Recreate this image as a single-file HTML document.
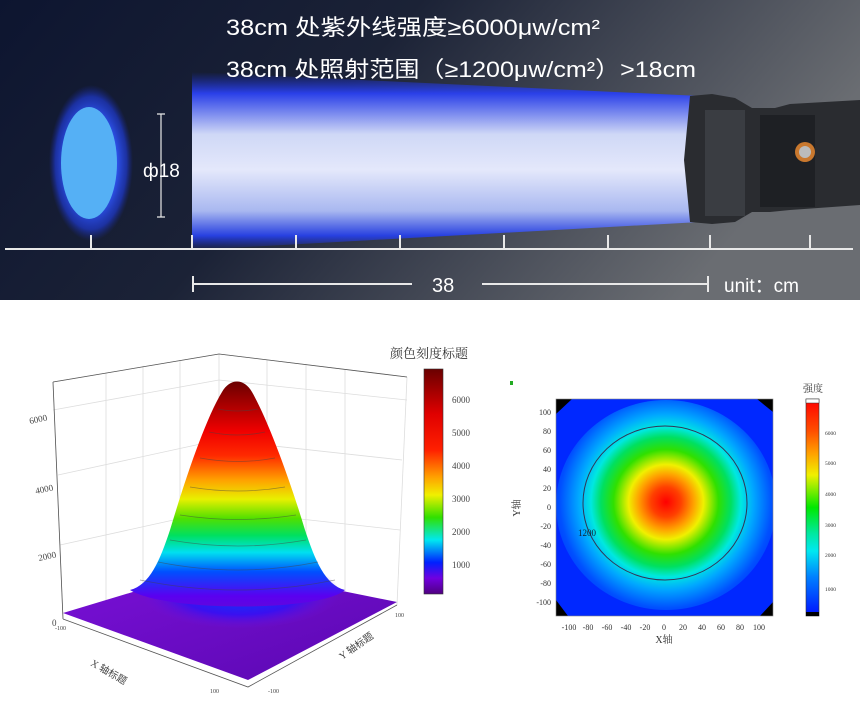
<!DOCTYPE html>
<html><head><meta charset="utf-8"><style>
body{margin:0;width:860px;height:716px;background:#fff;overflow:hidden;font-family:"Liberation Sans","Noto Sans CJK SC",sans-serif}
</style></head><body>
<svg width="860" height="716" viewBox="0 0 860 716" xmlns="http://www.w3.org/2000/svg">
<defs>
<linearGradient id="bg" x1="0" y1="0" x2="1" y2="0.3">
<stop offset="0" stop-color="#0d1530"/><stop offset="0.45" stop-color="#1b2236"/><stop offset="1" stop-color="#6a6d72"/></linearGradient>
<linearGradient id="beam" x1="0" y1="0" x2="0" y2="1">
<stop offset="0" stop-color="#1b2fd0" stop-opacity="0"/><stop offset="0.12" stop-color="#2a40e8"/><stop offset="0.35" stop-color="#cfd8f6"/><stop offset="0.55" stop-color="#e4e8fb"/><stop offset="0.78" stop-color="#a9b8f0"/><stop offset="0.92" stop-color="#2740e0"/><stop offset="1" stop-color="#1b2fd0" stop-opacity="0"/></linearGradient>
<radialGradient id="glow"><stop offset="0.6" stop-color="#2f55f0"/><stop offset="0.85" stop-color="#1f3ad0" stop-opacity="0.7"/><stop offset="1" stop-color="#1a2aa0" stop-opacity="0"/></radialGradient>
<linearGradient id="peak" x1="0" y1="383" x2="0" y2="625" gradientUnits="userSpaceOnUse">
<stop offset="0" stop-color="#6e0000"/><stop offset="0.1" stop-color="#b00000"/><stop offset="0.2" stop-color="#f00000"/><stop offset="0.3" stop-color="#ff2a00"/><stop offset="0.4" stop-color="#ffa000"/><stop offset="0.48" stop-color="#e8f000"/><stop offset="0.56" stop-color="#50e000"/><stop offset="0.63" stop-color="#00e060"/><stop offset="0.7" stop-color="#00e0f0"/><stop offset="0.78" stop-color="#0050ff"/><stop offset="0.88" stop-color="#5a00f0"/><stop offset="1" stop-color="#6a10c0"/></linearGradient>
<linearGradient id="cb3" x1="0" y1="0" x2="0" y2="1">
<stop offset="0" stop-color="#6a0000"/><stop offset="0.2" stop-color="#e00000"/><stop offset="0.36" stop-color="#ff2000"/><stop offset="0.48" stop-color="#ffa000"/><stop offset="0.56" stop-color="#f0f000"/><stop offset="0.66" stop-color="#30e000"/><stop offset="0.76" stop-color="#00e8f0"/><stop offset="0.86" stop-color="#0020ff"/><stop offset="0.93" stop-color="#7000e0"/><stop offset="1" stop-color="#500080"/></linearGradient>
<linearGradient id="cb2" x1="0" y1="0" x2="0" y2="1">
<stop offset="0" stop-color="#ff0000"/><stop offset="0.15" stop-color="#ff5000"/><stop offset="0.25" stop-color="#ffa000"/><stop offset="0.35" stop-color="#f0f000"/><stop offset="0.5" stop-color="#00e800"/><stop offset="0.62" stop-color="#00e8a0"/><stop offset="0.7" stop-color="#00e8f0"/><stop offset="0.82" stop-color="#0080ff"/><stop offset="1" stop-color="#0010ff"/></linearGradient>
<radialGradient id="heat" cx="666" cy="502" r="125" gradientUnits="userSpaceOnUse">
<stop offset="0" stop-color="#ff0000"/><stop offset="0.12" stop-color="#ff4000"/><stop offset="0.22" stop-color="#ffa000"/><stop offset="0.3" stop-color="#f0f000"/><stop offset="0.42" stop-color="#30e000"/><stop offset="0.52" stop-color="#00e060"/><stop offset="0.6" stop-color="#00e8e0"/><stop offset="0.7" stop-color="#00a8ff"/><stop offset="0.85" stop-color="#0050ff"/><stop offset="1" stop-color="#0028ff"/></radialGradient>
<linearGradient id="plane" x1="0" y1="0" x2="1" y2="1"><stop offset="0" stop-color="#7a10d8"/><stop offset="1" stop-color="#5a08b0"/></linearGradient>
<radialGradient id="skirt" cx="240" cy="592" r="100" gradientUnits="userSpaceOnUse" gradientTransform="translate(0 380) scale(1 0.36)"><stop offset="0" stop-color="#0040ff"/><stop offset="0.6" stop-color="#3a10f0"/><stop offset="1" stop-color="#7010d8" stop-opacity="0"/></radialGradient>
<clipPath id="pc"><rect x="556" y="399" width="217" height="217"/></clipPath>
</defs>
<!-- banner -->
<rect x="0" y="0" width="860" height="300" fill="url(#bg)"/>
<polygon points="192,72 700,96 700,222 192,250" fill="url(#beam)"/>
<ellipse cx="91" cy="163" rx="42" ry="78" fill="url(#glow)"/>
<ellipse cx="89" cy="163" rx="28" ry="56" fill="#55b0f5"/>
<g fill="#2a2c30"><path d="M690,96 L712,94 L735,98 L752,108 L775,108 L790,104 L860,100 L860,205 L790,210 L770,212 L752,212 L735,222 L712,224 L690,222 L684,160 Z"/></g>
<rect x="705" y="110" width="40" height="106" fill="#3a3d42"/>
<rect x="760" y="115" width="55" height="92" fill="#1e2024"/>
<circle cx="805" cy="152" r="10" fill="#c9782e"/><circle cx="805" cy="152" r="6" fill="#bbb"/>
<g stroke="#e8e8e8" stroke-width="2" fill="none">
<line x1="5" y1="249" x2="853" y2="249"/>
<path d="M91,235V249M192,235V249M296,235V249M400,235V249M504,235V249M608,235V249M710,235V249M810,235V249"/>
<path d="M192,284H412M482,284H708M193,276V292M708,276V292"/>
<path d="M161,114V217M157,114H165M157,217H165" stroke-width="1.2"/>
</g>
<g fill="#fff" font-size="22">
<text x="226" y="35" textLength="374" lengthAdjust="spacingAndGlyphs">38cm 处紫外线强度≥6000μw/cm²</text>
<text x="226" y="77" textLength="470" lengthAdjust="spacingAndGlyphs">38cm 处照射范围（≥1200μw/cm²）&gt;18cm</text>
<text x="143" y="177" font-size="19">ф18</text>
<text x="432" y="292" font-size="20">38</text>
<text x="724" y="292" font-size="19">unit：cm</text>
</g>
<!-- 3D plot -->
<g stroke="#ddd" stroke-width="0.8" fill="none">
<path d="M219,354 L219,573 M53,382 L63,619 M219,354 L407,377 M53,382 L219,354 M407,377 L397,605"/>
<path d="M106,373V600M143,366V590M180,360V580M267,360V585M306,365V590M345,370V595M58,475L219,440M60,545L219,510M219,440L402,460M219,510L400,530M53,410L219,380M219,380L407,400"/>
</g>
<g stroke="#555" stroke-width="0.8" fill="none"><path d="M53,382 L63,619 M63,619 L248,687 L397,605 M53,382L219,354L407,377"/></g>
<polygon points="63,613 219,566 397,602 248,680" fill="url(#plane)"/>
<ellipse cx="240" cy="592" rx="100" ry="36" fill="url(#skirt)"/>
<path d="M130,590 C150,585 160,560 170,530 C185,480 205,420 222,392 C230,378 244,378 252,392 C268,420 290,480 305,530 C315,560 325,585 345,590 C320,612 165,612 130,590 Z" fill="url(#peak)"/>
<g stroke="#444" stroke-opacity="0.5" fill="none" stroke-width="0.8">
<path d="M218,409 Q238,413 258,409M209,432Q238,438 265,432M200,458Q238,465 275,458M190,487Q238,495 285,487M180,515Q238,524 296,515M170,540Q238,552 306,540M158,562Q238,578 318,562M140,580Q238,600 335,580"/>
</g>
<g font-family="Liberation Serif,serif" font-size="9" fill="#444">
<text x="30" y="424" transform="rotate(-12 30 424)">6000</text>
<text x="36" y="494" transform="rotate(-12 36 494)">4000</text>
<text x="39" y="561" transform="rotate(-12 39 561)">2000</text>
<text x="52" y="626">0</text>
<text x="24" y="530" font-size="10" transform="rotate(90 24 475)" font-family="Liberation Serif,Noto Serif CJK SC,serif">Z坐标轴标题</text>
<text x="90" y="665" transform="rotate(30 90 665)" font-size="10">X 轴标题</text>
<text x="342" y="660" transform="rotate(-35 342 660)" font-size="10">Y 轴标题</text>
<text x="55" y="630" font-size="6">-100</text><text x="210" y="693" font-size="6">100</text><text x="395" y="617" font-size="6">100</text><text x="268" y="693" font-size="6">-100</text>
</g>
<rect x="424" y="369" width="19" height="225" fill="url(#cb3)" stroke="#333" stroke-width="0.6"/>
<g font-family="Liberation Serif,serif" font-size="9" fill="#444"><text x="452" y="403">6000</text><text x="452" y="436">5000</text><text x="452" y="469">4000</text><text x="452" y="502">3000</text><text x="452" y="535">2000</text><text x="452" y="568">1000</text></g>
<text x="390" y="358" font-size="13" fill="#333" font-family="Liberation Serif,Noto Serif CJK SC,serif">颜色刻度标题</text>
<!-- contour -->
<rect x="556" y="399" width="217" height="217" fill="#000"/>
<polygon points="572,399 757,399 773,412 773,602 760,616 568,616 556,600 556,414" fill="#0028ff"/>
<g clip-path="url(#pc)"><ellipse cx="666" cy="505" rx="110" ry="105" fill="url(#heat)"/></g>
<ellipse cx="665" cy="503" rx="82" ry="77" fill="none" stroke="#335" stroke-width="1"/>
<rect x="556" y="399" width="217" height="217" fill="none" stroke="#888" stroke-width="0.6"/>
<text x="578" y="536" font-family="Liberation Serif,serif" font-size="9" fill="#123">1200</text>
<g font-family="Liberation Serif,serif" font-size="8" fill="#333" text-anchor="end">
<text x="551" y="415">100</text><text x="551" y="434">80</text><text x="551" y="453">60</text><text x="551" y="472">40</text><text x="551" y="491">20</text><text x="551" y="510">0</text><text x="551" y="529">-20</text><text x="551" y="548">-40</text><text x="551" y="567">-60</text><text x="551" y="586">-80</text><text x="551" y="605">-100</text></g>
<g font-family="Liberation Serif,serif" font-size="8" fill="#333" text-anchor="middle">
<text x="569" y="630">-100</text><text x="588" y="630">-80</text><text x="607" y="630">-60</text><text x="626" y="630">-40</text><text x="645" y="630">-20</text><text x="664" y="630">0</text><text x="683" y="630">20</text><text x="702" y="630">40</text><text x="721" y="630">60</text><text x="740" y="630">80</text><text x="759" y="630">100</text>
<text x="664" y="643" font-size="10" font-family="Liberation Serif,Noto Serif CJK SC,serif">X轴</text></g>
<text x="520" y="508" font-size="10" fill="#333" text-anchor="middle" transform="rotate(-90 520 508)" font-family="Liberation Serif,Noto Serif CJK SC,serif">Y轴</text>
<rect x="510" y="381" width="3" height="4" fill="#2a2"/>
<rect x="806" y="399" width="13" height="217" fill="url(#cb2)" stroke="#333" stroke-width="0.6"/>
<rect x="806" y="399" width="13" height="4" fill="#fff" stroke="#333" stroke-width="0.5"/>
<rect x="806" y="612" width="13" height="4" fill="#000"/>
<g font-family="Liberation Serif,serif" font-size="5.5" fill="#333"><text x="825" y="435">6000</text><text x="825" y="465">5000</text><text x="825" y="496">4000</text><text x="825" y="527">3000</text><text x="825" y="557">2000</text><text x="825" y="591">1000</text></g>
<text x="803" y="392" font-size="10" fill="#333" font-family="Liberation Serif,Noto Serif CJK SC,serif">强度</text>
</svg>
</body></html>
